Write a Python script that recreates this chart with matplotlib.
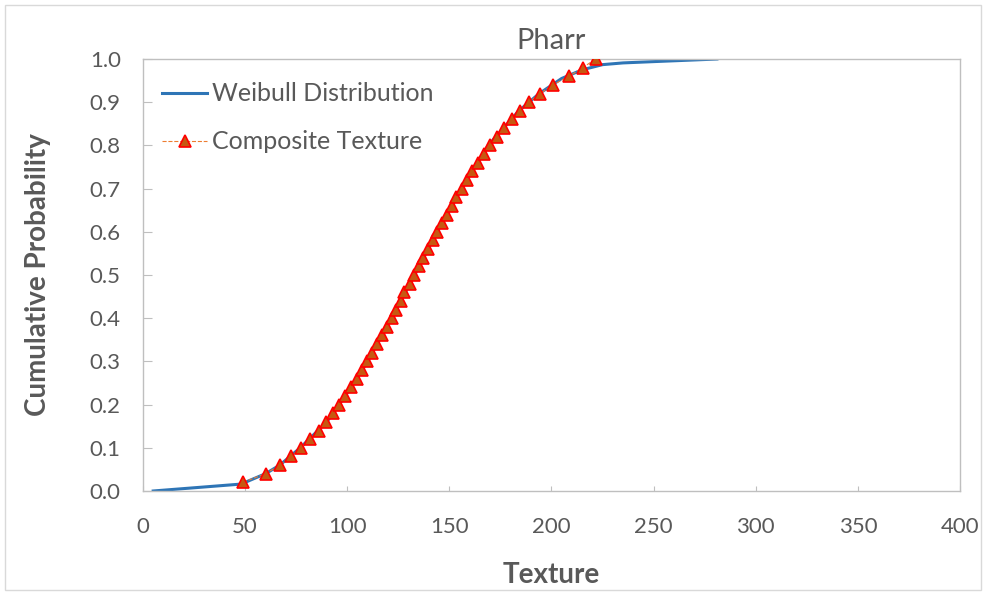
import numpy as np
import matplotlib
matplotlib.use('Agg')
import matplotlib.pyplot as plt
from matplotlib.patches import Rectangle

# composite texture
comp_prob = [0.02, 0.04, 0.06, 0.08, 0.10, 0.12, 0.14, 0.16, 0.18, 0.20,
             0.22, 0.24, 0.26, 0.28, 0.30, 0.32, 0.34, 0.36, 0.38, 0.40,
             0.42, 0.44, 0.46, 0.48, 0.50, 0.52, 0.54, 0.56, 0.58, 0.60,
             0.62, 0.64, 0.66, 0.68, 0.70, 0.72, 0.74, 0.76, 0.78, 0.80,
             0.82, 0.84, 0.86, 0.88, 0.90, 0.92, 0.94, 0.96, 0.98, 1.00]
comp_texture = [49, 60, 67, 72.5, 77.5, 82, 86, 89.5, 93, 96,
                99, 101.7, 104.6, 107.4, 109.8, 112.1, 114.7, 117, 119.3, 121.8,
                123.9, 126.2, 128, 130.5, 132.8, 135.1, 137.2, 139.4, 141.8, 144.1,
                146.5, 148.8, 151.1, 153.4, 156.3, 158.8, 161.2, 164.2, 166.9, 169.9,
                173.2, 176.9, 180.5, 184.6, 189.0, 194.4, 200.6, 208.6, 215.3, 221.6]

# weibull fit line
weib_texture = [5, 48, 60, 67, 77, 90, 99, 110, 121.5, 133, 144, 156, 169,
                184, 194, 205, 215, 225, 235, 250, 281]
weib_prob = [0.0, 0.016, 0.04, 0.06, 0.10, 0.16, 0.22, 0.30, 0.40, 0.50, 0.60,
             0.70, 0.80, 0.88, 0.92, 0.955, 0.975, 0.987, 0.991, 0.994, 1.0]

xticks = [0, 50, 100, 150, 200, 250, 300, 350, 400]
yticks = np.arange(0, 1.01, 0.1)

plt.rcParams['font.family'] = ['Lato', 'DejaVu Sans']
grey_text = '#595959'
grey_line = '#BFBFBF'

fig = plt.figure(figsize=(9.86, 5.95), dpi=100)
fig.patches.append(Rectangle((0.005, 0.008), 0.99, 0.983, transform=fig.transFigure,
                             fill=False, edgecolor='#D9D9D9', linewidth=1.0))
ax = fig.add_axes([0.145, 0.1748, 0.8286, 0.726])

ax.plot(weib_texture, weib_prob, color='#2E75B6', linewidth=2.2,
        label='Weibull Distribution', zorder=2)
ax.plot(comp_texture, comp_prob, color='#ED7D31', linewidth=0.8, linestyle='--',
        marker='^', markersize=8.5, markerfacecolor='#C65911',
        markeredgecolor='#FF0000', markeredgewidth=1.2,
        label='Composite Texture', zorder=3)

ax.set_xlim(0, 400)
ax.set_ylim(0, 1.0)
ax.set_xticks(xticks)
ax.set_yticks(yticks)
ax.set_yticklabels(['%.1f' % v for v in yticks])

for s in ax.spines.values():
    s.set_color(grey_line)
    s.set_linewidth(1.0)

ax.tick_params(axis='y', direction='in', length=6.5, color=grey_line,
               labelsize=16, labelcolor=grey_text, pad=16)
ax.tick_params(axis='x', direction='in', length=3.5, color=grey_line,
               labelsize=16, labelcolor=grey_text, pad=19)

ax.set_title('Pharr', fontsize=21, color=grey_text, pad=7)
ax.set_xlabel('Texture', fontsize=20, fontweight='bold', color=grey_text, labelpad=18)
ax.set_ylabel('Cumulative Probability', fontsize=20, fontweight='bold',
              color=grey_text, labelpad=28)

leg = ax.legend(loc='upper left', bbox_to_anchor=(-0.004, 0.998), frameon=False,
                fontsize=18, labelcolor=grey_text, handlelength=1.8,
                handletextpad=0.2, labelspacing=1.0)

fig.savefig('out.png', dpi=100)
